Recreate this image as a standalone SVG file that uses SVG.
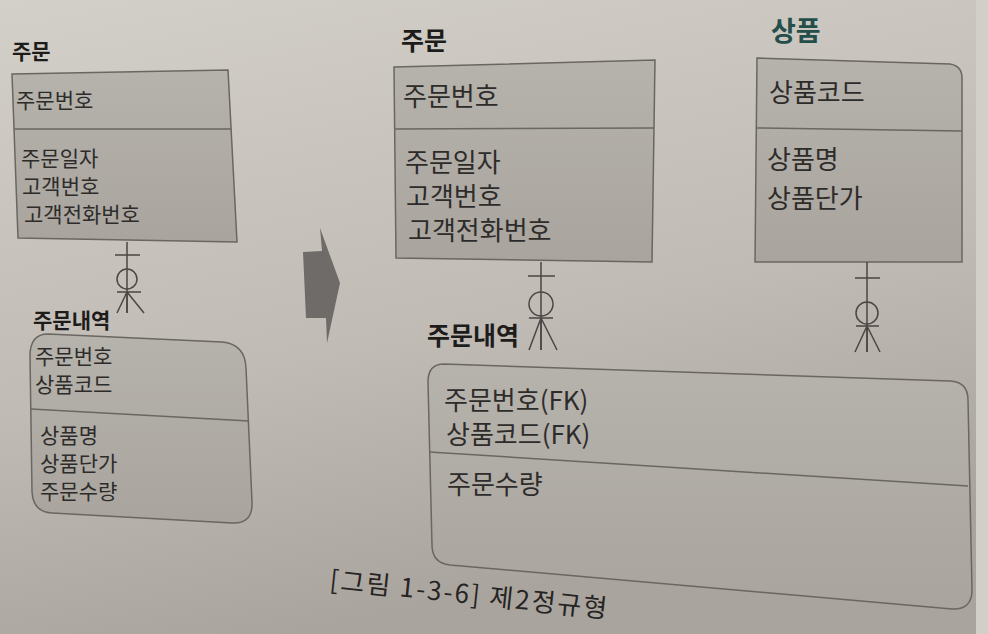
<svg xmlns="http://www.w3.org/2000/svg" width="988" height="634" viewBox="0 0 988 634">
<defs>
<linearGradient id="bg" x1="0" y1="0" x2="0.3" y2="1">
<stop offset="0" stop-color="#d3cfc9"/>
<stop offset="0.6" stop-color="#c0bbb4"/>
<stop offset="1" stop-color="#aaa49e"/>
</linearGradient>
<linearGradient id="box" x1="0" y1="0" x2="0" y2="1">
<stop offset="0" stop-color="#b6b2ac"/>
<stop offset="1" stop-color="#a9a49e"/>
</linearGradient>
</defs>
<style>
.ent{fill:url(#box);stroke:#6a6661;stroke-width:1.5}
.div{stroke:#6a6661;stroke-width:1.5;fill:none}
.t{font-family:"Noto Sans CJK KR","Noto Sans",sans-serif;fill:#2e2c2a}
.s{font-size:21px}
.m{font-size:26px}
.h{font-family:"Noto Sans CJK KR","Noto Sans",sans-serif;font-weight:bold;fill:#1e1c1b}
.rel{stroke:#4a4744;stroke-width:1.5;fill:none}
</style>
<rect width="988" height="634" fill="url(#bg)"/>
<rect x="976" y="0" width="12" height="634" fill="#d2cec8"/>

<g id="order-left">
<text class="h" x="12" y="59" font-size="21">주문</text>
<path class="ent" d="M12 74 L228 70 L237 242 L18 238 Z"/>
<path class="div" d="M14 129 L231 129"/>
<text class="t s" x="16" y="108">주문번호</text>
<text class="t s" x="21" y="166">주문일자</text>
<text class="t s" x="22" y="194">고객번호</text>
<text class="t s" x="24" y="222">고객전화번호</text>
</g>

<g id="orderitem-left">
<text class="h" x="33" y="328" font-size="21">주문내역</text>
<path class="ent" d="M48 334 L222 342 Q245 344 246 368 L252 502 Q253 524 232 523 L52 513 Q33 512 32 492 L30 356 Q30 334 48 334 Z"/>
<path class="div" d="M31 409 L249 421"/>
<text class="t s" x="35" y="364">주문번호</text>
<text class="t s" x="35" y="392">상품코드</text>
<text class="t s" x="40" y="443">상품명</text>
<text class="t s" x="40" y="471">상품단가</text>
<text class="t s" x="40" y="499">주문수량</text>
</g>

<g id="arrow">
<polygon points="303,252 322,251 320,228 340,283 327,343 326,318 306,318" fill="#6e6b68"/>
</g>

<g id="order-right">
<text class="h" x="401" y="50" font-size="25">주문</text>
<path class="ent" d="M394 67 L655 60 L652 262 L396 258 Z"/>
<path class="div" d="M395 129 L654 128"/>
<text class="t m" x="403" y="106">주문번호</text>
<text class="t m" x="405" y="172">주문일자</text>
<text class="t m" x="406" y="206">고객번호</text>
<text class="t m" x="408" y="240">고객전화번호</text>
</g>

<g id="product">
<text class="h" x="771" y="41" font-size="27" style="fill:#244e4a">상품</text>
<path class="ent" d="M757 58 L950 64 Q962 66 962 78 L962 262 L755 262 Z"/>
<path class="div" d="M756 128 L962 131"/>
<text class="t m" x="769" y="102">상품코드</text>
<text class="t m" x="767" y="169">상품명</text>
<text class="t m" x="767" y="208">상품단가</text>
</g>

<g id="orderitem-right">
<text class="h" x="427" y="345" font-size="25">주문내역</text>
<path class="ent" d="M444 364 L950 381 Q968 382 968 400 L972 590 Q972 610 952 609 L450 565 Q432 563 432 545 L428 382 Q428 364 444 364 Z"/>
<path class="div" d="M429 452 L968 486"/>
<text class="t m" x="444" y="410">주문번호(FK)</text>
<text class="t m" x="446" y="444">상품코드(FK)</text>
<text class="t m" x="447" y="494">주문수량</text>
</g>

<g id="connectors">
<path class="rel" d="M127 242 V313 M115 255 H140"/>
<circle class="rel" cx="127" cy="279" r="10"/>
<path class="rel" d="M117 292 H141 M127 292 L117 313 M127 292 L127 313 M127 292 L144 313"/>

<path class="rel" d="M541 262 V350 M528 276 H555"/>
<circle class="rel" cx="541" cy="304" r="12"/>
<path class="rel" d="M529 318 H553 M541 318 L529 350 M541 318 L541 350 M541 318 L557 350"/>

<path class="rel" d="M867 262 V352 M855 278 H880"/>
<circle class="rel" cx="867" cy="313" r="11"/>
<path class="rel" d="M856 326 H879 M867 326 L855 352 M867 326 L867 352 M867 326 L880 352"/>
</g>

<text class="t" x="329" y="589" font-size="26" letter-spacing="2" transform="rotate(6 329 589)" style="fill:#262422">[그림 1-3-6] 제2정규형</text>
</svg>
